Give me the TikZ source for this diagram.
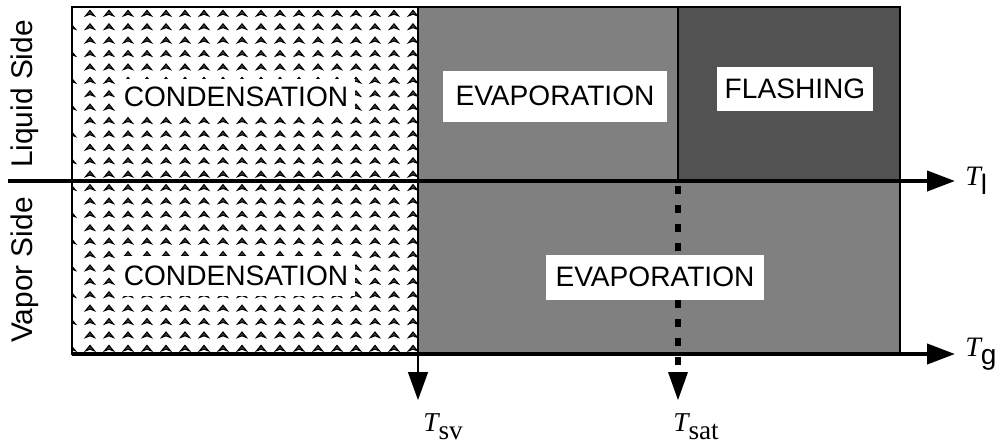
\documentclass[tikz,border=0pt]{standalone}
\usepackage{fontspec}
\setmainfont{Liberation Sans}
\newfontfamily\timesfont{Liberation Serif}
\usetikzlibrary{arrows.meta, positioning, calc}

\begin{document}
\begin{tikzpicture}[x=0.02cm, y=-0.02cm, font=\fontsize{16}{19}\selectfont]
    \tikzstyle{regbox} = [fill=white, inner sep=0pt, minimum height=0.9cm]
    \tikzstyle{sidelab} = [rotate=90, font=\fontsize{17}{20}\selectfont]
    \tikzstyle{axis} = [line width=2.3pt, -{Triangle[length=0.56cm, width=0.4cm]}]
    \tikzstyle{tarrow} = [-{Triangle[length=0.56cm, width=0.4cm]}]
    \tikzstyle{chev} = [fill=black!75, draw=black, line width=0.6pt, line join=miter]
    \tikzstyle{templab} = [inner sep=0pt, anchor=north west, font=\fontsize{15.5}{17}\selectfont]

    \useasboundingbox (0,0) rectangle (1000,444);

    % regions
    \fill[black!50] (418,7) rectangle (900,354);
    \fill[black!68] (678,7) rectangle (900,181);

    % condensation pattern
    \begin{scope}
        \clip (72,7) rectangle (418,354);
        \foreach \r in {1,...,26} {
            \foreach \c in {0,...,18} {
                \pgfmathsetmacro{\px}{71+19*\c}
                \pgfmathsetmacro{\py}{13.4*\r}
                \pgfmathtruncatemacro{\skip}{(\c==0)*(mod(\r,2)==1)}
                \ifnum\skip=0
                    \filldraw[chev] (\px-4.5,\py+2.5) -- (\px,\py-3) -- (\px+4.5,\py+2.5) -- (\px,\py+0.8) -- cycle;
                \fi
            }
        }
    \end{scope}

    % frame
    \draw[line width=1.1pt] (72,7) rectangle (900,354);
    \draw[line width=1.1pt] (418,7) -- (418,354);
    \draw[line width=0.85pt] (678,7) -- (678,181);

    \coordinate (lstart) at (8,181);
    \coordinate (lend) at (955,181);
    \coordinate (gstart) at (72,354);
    \coordinate (gend) at (955,354);
    \coordinate (svtop) at (418,354);
    \coordinate (svend) at (418,400);
    \coordinate (sattop) at (678,186);
    \coordinate (satend) at (678,400);

    \draw [axis] (lstart) -- (lend);
    \draw [axis] (gstart) -- (gend);
    \draw [tarrow, line width=0.8pt] (svtop) -- (svend);
    \draw [line width=3.4pt, dash pattern=on 0.16cm off 0.22cm] (sattop) -- (678,372);
    \fill (678,372) -- ++(-10,0) -- (satend) -- (688,372) -- cycle;

    % region labels
    \node (cond1) [regbox, minimum width=4.76cm, minimum height=0.74cm] at (236,97) {CONDENSATION};
    \node (cond2) [regbox, minimum width=4.76cm, minimum height=0.8cm] at (236,276) {CONDENSATION};
    \node (evap1) [regbox, minimum width=4.48cm, minimum height=1.02cm] at (555,96) {EVAPORATION};
    \node (flash) [regbox, minimum width=3.14cm, minimum height=0.88cm] at (795,89) {FLASHING};
    \node (evap2) [regbox, minimum width=4.38cm] at (655,277) {EVAPORATION};

    % side labels
    \node (liquid) [sidelab] at (25,94) {Liquid Side};
    \node (vapor) [sidelab] at (25,270) {Vapor Side};

    % temperatures
    \node (tl) [templab, anchor=west, right=0.2cm of lend, font=\fontsize{16}{18}\selectfont] {{\timesfont\itshape T}\raisebox{-0.3em}{l}};
    \node (tg) [templab, anchor=west, right=0.2cm of gend, font=\fontsize{16}{18}\selectfont] {{\timesfont\itshape T}\raisebox{-0.3em}{g}};
    \node (tsv) [templab] at (423,413) {{\timesfont\itshape T}\raisebox{-0.3em}{\timesfont sv}};
    \node (tsat) [templab] at (673,413) {{\timesfont\itshape T}\raisebox{-0.3em}{\timesfont sat}};
\end{tikzpicture}
\end{document}
